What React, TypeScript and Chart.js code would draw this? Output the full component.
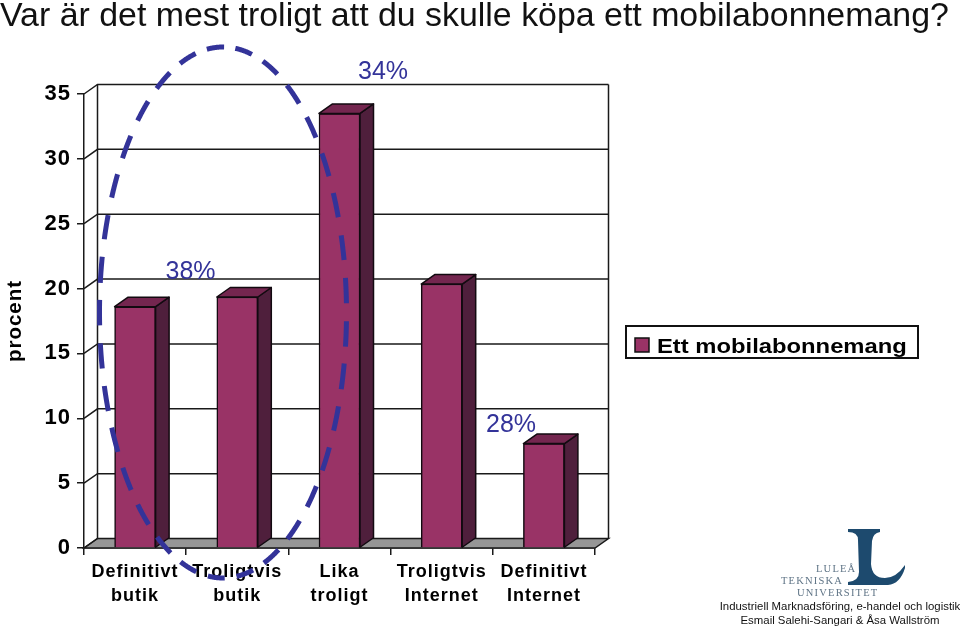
import React, { useEffect, useRef } from "react";
import { Chart, registerables } from "chart.js";

Chart.register(...registerables);

const titleText = "Var är det mest troligt att du skulle köpa ett mobilabonnemang?";
const categories = [
  ["Definitivt", "butik"],
  ["Troligtvis", "butik"],
  ["Lika", "troligt"],
  ["Troligtvis", "Internet"],
  ["Definitivt", "Internet"],
];
const seriesName = "Ett mobilabonnemang";
const seriesValues = [18.6, 19.35, 33.5, 20.35, 8.05];
const yTitle = "procent";
const calloutTexts = ["38%", "34%", "28%"];
const footerLines = [
  "Industriell Marknadsföring, e-handel och logistik",
  "Esmail Salehi-Sangari & Åsa Wallström",
];
const logoLines = ["LULEÅ", "TEKNISKA", "UNIVERSITET"];

const SANS = '"Liberation Sans"';
const SERIF = '"Liberation Serif"';
const DX = 13.5;
const DY = 9.5;
const FRONT = "#993366";
const SIDE = "#4f1f3c";
const TOP = "#74264f";
const BLUE = "#333399";
const LINE = "#1a1a1a";

function poly(ctx: CanvasRenderingContext2D, pts: number[][], fill?: string) {
  ctx.beginPath();
  pts.forEach((p, i) => (i ? ctx.lineTo(p[0], p[1]) : ctx.moveTo(p[0], p[1])));
  ctx.closePath();
  if (fill) {
    ctx.fillStyle = fill;
    ctx.fill();
  }
  ctx.stroke();
}

const setSpacing = (ctx: any, v: string) => {
  ctx.letterSpacing = v;
};

// The callout ring was drawn on a slide later stretched vertically, so its
// dashes are longer on the sides than along the top.
function stretchedDashedEllipse(
  ctx: CanvasRenderingContext2D,
  cx: number,
  cy: number,
  rx: number,
  ry: number,
  stretch: number,
  dash: number,
  gap: number,
  startAngle: number
) {
  ctx.beginPath();
  const step = 0.004;
  let on = true;
  let left = dash;
  let px = cx + rx * Math.cos(startAngle);
  let py = cy + ry * Math.sin(startAngle);
  ctx.moveTo(px, py);
  for (let a = startAngle + step; a < startAngle + Math.PI * 2; a += step) {
    const x = cx + rx * Math.cos(a);
    const y = cy + ry * Math.sin(a);
    const d = Math.hypot(x - px, (y - py) / stretch);
    left -= d;
    if (on) ctx.lineTo(x, y);
    else ctx.moveTo(x, y);
    if (left <= 0) {
      on = !on;
      left += on ? dash : gap;
    }
    px = x;
    py = y;
  }
  ctx.stroke();
}

const wallsPlugin = {
  id: "walls",
  beforeDraw(chart: any) {
    setSpacing(chart.ctx, "1px");
  },
  beforeDatasetsDraw(chart: any) {
    const { ctx, scales } = chart;
    const y = scales.y;
    const l = chart.chartArea.left;
    const r = chart.chartArea.right;
    const b = chart.chartArea.bottom;
    ctx.save();
    ctx.strokeStyle = LINE;
    ctx.lineWidth = 1.5;
    poly(ctx, [[l, b], [r, b], [r + DX, b - DY], [l + DX, b - DY]], "#969696");
    (y.ticks as any[]).forEach((t) => {
      const py = y.getPixelForValue(t.value);
      ctx.beginPath();
      ctx.moveTo(l, py);
      ctx.lineTo(l + DX, py - DY);
      if (t.value > 0) ctx.lineTo(r + DX, py - DY);
      ctx.stroke();
    });
    const topY = y.getPixelForValue(35) - DY;
    ctx.beginPath();
    ctx.moveTo(l + DX, topY);
    ctx.lineTo(l + DX, b - DY);
    ctx.moveTo(r + DX, topY);
    ctx.lineTo(r + DX, b - DY);
    ctx.stroke();
    ctx.restore();
  },
  afterDatasetDraw(chart: any) {
    const { ctx } = chart;
    ctx.save();
    ctx.strokeStyle = "#120a10";
    ctx.lineWidth = 1.5;
    ctx.lineJoin = "round";
    chart.getDatasetMeta(0).data.forEach((bar: any) => {
      const left = bar.x - bar.width / 2;
      const right = bar.x + bar.width / 2;
      const top = bar.y;
      const base = bar.base;
      poly(ctx, [[right, top], [right + DX, top - DY], [right + DX, base - DY], [right, base]], SIDE);
      poly(ctx, [[left, top], [left + DX, top - DY], [right + DX, top - DY], [right, top]], TOP);
    });
    ctx.restore();
  },
  afterDraw(chart: any) {
    const { ctx } = chart;
    ctx.save();
    ctx.textBaseline = "alphabetic";

    // title
    setSpacing(ctx, "0px");
    ctx.fillStyle = "#111";
    ctx.textAlign = "left";
    ctx.font = `33.9px ${SANS}`;
    ctx.fillText(titleText, 0, 26);

    // callouts
    ctx.fillStyle = BLUE;
    ctx.font = `25px ${SANS}`;
    ctx.textAlign = "center";
    ctx.fillText(calloutTexts[0], 190.5, 279);
    ctx.fillText(calloutTexts[1], 383, 79);
    ctx.fillText(calloutTexts[2], 511, 432);

    // legend
    ctx.fillStyle = "#fff";
    ctx.strokeStyle = "#111";
    ctx.lineWidth = 2;
    ctx.fillRect(626, 326, 292, 32);
    ctx.strokeRect(626, 326, 292, 32);
    ctx.lineWidth = 1.5;
    ctx.fillStyle = FRONT;
    ctx.fillRect(635, 338, 14, 14);
    ctx.strokeRect(635, 338, 14, 14);
    ctx.fillStyle = "#000";
    ctx.textAlign = "left";
    ctx.font = `bold 21px ${SANS}`;
    ctx.save();
    ctx.translate(657, 353);
    ctx.scale(1.133, 1);
    ctx.fillText(seriesName, 0, 0);
    ctx.restore();

    // dashed ring
    ctx.lineWidth = 5;
    ctx.strokeStyle = BLUE;
    stretchedDashedEllipse(ctx, 223, 312.5, 123.5, 265.5, 1.5, 17, 11.84, -Math.PI / 2 + 0.1);

    // logo mark
    ctx.fillStyle = "#1d4a6e";
    ctx.beginPath();
    ctx.moveTo(848, 529);
    ctx.lineTo(880, 529);
    ctx.lineTo(880, 532);
    ctx.quadraticCurveTo(873, 533, 872, 541);
    ctx.lineTo(871, 564);
    ctx.quadraticCurveTo(872, 578, 885, 578);
    ctx.quadraticCurveTo(896, 578, 905, 565);
    ctx.lineTo(905, 568);
    ctx.quadraticCurveTo(900, 584, 888, 585);
    ctx.lineTo(848, 585);
    ctx.lineTo(848, 582);
    ctx.quadraticCurveTo(859, 581, 859, 572);
    ctx.lineTo(858, 540);
    ctx.quadraticCurveTo(858, 532, 848, 532);
    ctx.closePath();
    ctx.fill();

    // logo words
    ctx.fillStyle = "#5f7486";
    ctx.font = `10.5px ${SERIF}`;
    setSpacing(ctx, "1.2px");
    ctx.textAlign = "left";
    ctx.fillText(logoLines[0], 816, 572);
    ctx.fillText(logoLines[1], 781, 584);
    ctx.fillText(logoLines[2], 797, 596);

    // footer
    setSpacing(ctx, "0px");
    ctx.fillStyle = "#111";
    ctx.font = `11.4px ${SANS}`;
    ctx.textAlign = "center";
    ctx.fillText(footerLines[0], 840, 610);
    ctx.fillText(footerLines[1], 840, 624);
    ctx.restore();
  },
};

export default function App() {
  const ref = useRef<HTMLCanvasElement>(null);
  useEffect(() => {
    const chart = new Chart(ref.current as HTMLCanvasElement, {
      type: "bar",
      data: {
        labels: categories as any,
        datasets: [
          {
            label: seriesName,
            data: seriesValues,
            backgroundColor: FRONT,
            borderColor: "#120a10",
            borderWidth: 1.5,
            barThickness: 41,
          },
        ],
      },
      options: {
        responsive: false,
        animation: false,
        devicePixelRatio: 1,
        layout: { padding: { top: 94, right: 365, bottom: 0, left: 0 } },
        plugins: {
          legend: { display: false },
          title: { display: false },
          tooltip: { enabled: false },
        },
        scales: {
          x: {
            afterFit: (s: any) => {
              s.height = 81;
            },
            border: { display: true, color: LINE, width: 1.5 },
            grid: { display: true, drawOnChartArea: false, drawTicks: true, tickLength: 7, color: LINE, lineWidth: 1.5 },
            ticks: {
              color: "#000",
              maxRotation: 0,
              autoSkip: false,
              padding: 6,
              font: { family: SANS, size: 18, weight: "bold", lineHeight: 1.28 },
            },
          },
          y: {
            min: 0,
            max: 35,
            afterFit: (s: any) => {
              s.width = 84;
            },
            border: { display: true, color: LINE, width: 1.5 },
            grid: { display: true, drawOnChartArea: false, drawTicks: true, tickLength: 7, color: LINE, lineWidth: 1.5 },
            ticks: {
              stepSize: 5,
              color: "#000",
              padding: 6,
              font: { family: SANS, size: 22, weight: "bold" },
            },
            title: {
              display: true,
              text: yTitle,
              color: "#000",
              padding: { top: 3, bottom: 0 },
              font: { family: SANS, size: 20.5, weight: "bold" },
            },
          },
        },
      },
      plugins: [wallsPlugin],
    } as any);
    return () => chart.destroy();
  }, []);
  return (
    <div style={{ position: "fixed", left: 0, top: 0, width: 960, height: 629, background: "#fff" }}>
      <canvas ref={ref} width={960} height={629} style={{ display: "block" }} />
    </div>
  );
}
